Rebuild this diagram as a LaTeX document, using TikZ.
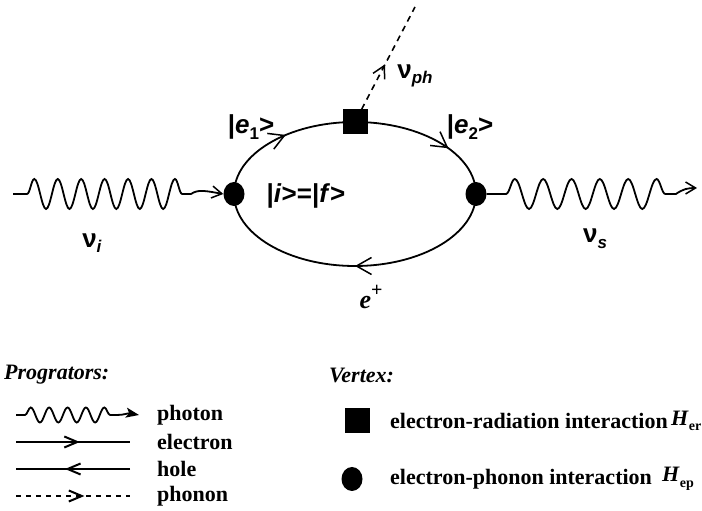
\documentclass[tikz,border=0pt]{standalone}
\usepackage{fontspec}
\setmainfont{Liberation Serif}
\newfontfamily\labfont{Liberation Sans}
\usetikzlibrary{arrows.meta,decorations.pathmorphing,decorations.markings,shapes.geometric}
\newcommand{\dsub}[1]{\raisebox{-0.22em}{\fontsize{17}{17}\selectfont #1}}
\newcommand{\dsup}[1]{\raisebox{0.45em}{\fontsize{20}{20}\selectfont #1}}
\newcommand{\lsub}[1]{\raisebox{-0.25em}{\fontsize{14}{14}\selectfont #1}}
\begin{document}
\begin{tikzpicture}[x=1pt,y=1pt,
  ebarb/.tip={Straight Barb[length=15pt,width=17pt,line width=1.5pt]},
  wbarb/.tip={Straight Barb[length=10pt,width=12pt,line width=1.5pt]},
  pbarb/.tip={Straight Barb[length=12pt,width=13pt,line width=1.5pt]},
  lbarb/.tip={Straight Barb[length=13pt,width=11pt,line width=2pt]},
  prop/.style={line width=1.8pt},
  lprop/.style={line width=2.2pt},
  midarr/.style={postaction={decorate},decoration={markings,mark=at position #1 with {\arrow{ebarb}}}},
  legarr/.style={postaction={decorate},decoration={markings,mark=at position #1 with {\arrow{lbarb}}}},
  phon/.style={line width=1.6pt,dash pattern=on 6pt off 5pt},
  lphon/.style={line width=1.6pt,dash pattern=on 5pt off 5pt},
  wave/.style={line width=1.8pt},
  vsq/.style={rectangle,fill=black,minimum width=25pt,minimum height=25pt,inner sep=0pt},
  vdot/.style={ellipse,fill=black,minimum width=21pt,minimum height=24pt,inner sep=0pt},
  lab/.style={font=\labfont\bfseries\fontsize{26}{30}\selectfont,inner sep=0pt},
  leg/.style={font=\bfseries\fontsize{22}{26}\selectfont,inner sep=0pt,anchor=west},
  legh/.style={font=\bfseries\itshape\fontsize{22}{26}\selectfont,inner sep=0pt,anchor=west}]
\useasboundingbox (0,0) rectangle (702,511);
% vertices
\node[vdot] (L) at (234,317) {};
\node[vdot] (R) at (476,317) {};
\node[vsq] (T) at (355,389) {};
\coordinate (phtop) at (415,504);
% loop
\draw[prop,midarr=0.54] (L.center) arc[start angle=180,end angle=90,x radius=121pt,y radius=72pt];
\draw[prop,midarr=0.64] (T.center) arc[start angle=90,end angle=0,x radius=121pt,y radius=72pt];
\draw[prop,midarr=0.5] (R.center) arc[start angle=0,end angle=-180,x radius=121pt,y radius=72pt];
% emitted phonon
\draw[phon,postaction={decorate},decoration={markings,mark=at position 0.44 with {\arrow{pbarb}}}] (T) -- (phtop);
% photons
\coordinate (wl0) at (13,317);
\coordinate (wl1) at (27,317);
\coordinate (wl2) at (191,317);
\draw[wave,-{wbarb}] (wl0) -- (wl1) decorate[decoration={snake,amplitude=15pt,segment length=23.43pt}]{-- (wl2)} .. controls (198,322) and (206,320) .. (L.west);
\coordinate (wr1) at (506,317);
\coordinate (wr2) at (676,317);
\coordinate (wr3) at (697,323);
\draw[wave,-{wbarb}] (R.east) -- (wr1) decorate[decoration={snake,amplitude=15pt,segment length=28.33pt}]{-- (wr2)} .. controls (683,322) and (688,323) .. (wr3);
% labels
\node[lab] (e1) at (251,384) {|\textit{e}\dsub{1}>};
\node[lab] (e2) at (470,384) {|\textit{e}\dsub{2}>};
\node[lab] (ifs) at (306,315) {|\textit{i}>=|\textit{f}>};
\node[lab] (nui) at (92,268) {ν\dsub{\textit{i}}};
\node[lab] (nus) at (595,272) {ν\dsub{\textit{s}}};
\node[lab] (nuph) at (415,435) {ν\dsub{\textit{ph}}};
\node[lab,font=\bfseries\fontsize{26}{30}\selectfont] (epl) at (371,214) {\textit{e}\dsup{+}};
% legend
\node[legh] (prog) at (4,136) {Progrators:};
\node[legh] (vtx) at (329,136) {Vertex:};
\coordinate (p0) at (16,96); \coordinate (p1) at (25,96); \coordinate (p2) at (117,96); \coordinate (p3) at (139,96);
\draw[line width=1.8pt,-{Stealth[length=13pt,width=10pt,inset=3pt]}] (p0) -- (p1) decorate[decoration={snake,amplitude=7.5pt,segment length=18.4pt}]{-- (p2)} .. controls (124,96) and (128,98) .. (p3);
\node[leg] (tph) at (157,96) {photon};
\coordinate (el0) at (16,69); \coordinate (el1) at (130,69);
\draw[lprop,legarr=0.56] (el0) -- (el1);
\node[leg] (tel) at (157,69) {electron};
\coordinate (ho0) at (130,42); \coordinate (ho1) at (16,42);
\draw[lprop,legarr=0.57] (ho0) -- (ho1);
\node[leg] (tho) at (157,42) {hole};
\coordinate (pn0) at (16,15); \coordinate (pn1) at (130,15);
\draw[lphon,legarr=0.6] (pn0) -- (pn1);
\node[leg] (tpn) at (157,15) {phonon};
\node[vsq] (lsq) at (357,90) {};
\node[vdot] (ldot) at (352,32) {};
\node[leg] (ter) at (390,90) {electron-radiation interaction};
\node[leg] (her) at (671,90) {\textit{H}\lsub{er}};
\node[leg] (tep) at (390,32) {electron-phonon interaction};
\node[leg] (hep) at (662,32) {\textit{H}\lsub{ep}};
\end{tikzpicture}
\end{document}
